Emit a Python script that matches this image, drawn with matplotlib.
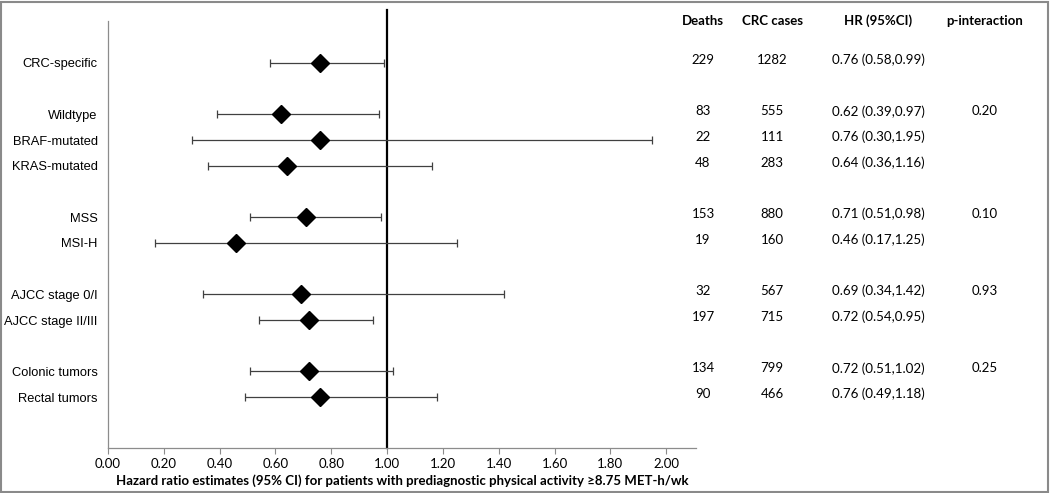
import matplotlib
matplotlib.use("Agg")
import matplotlib.pyplot as plt
import matplotlib.transforms as mtransforms
from matplotlib.patches import Rectangle

# ---- data ----
groups = [
    ["CRC-specific"],
    ["Wildtype", "BRAF-mutated", "KRAS-mutated"],
    ["MSS", "MSI-H"],
    ["AJCC stage 0/I", "AJCC stage II/III"],
    ["Colonic tumors", "Rectal tumors"],
]
hr = [0.76, 0.62, 0.76, 0.64, 0.71, 0.46, 0.69, 0.72, 0.72, 0.76]
ci_low = [0.58, 0.39, 0.30, 0.36, 0.51, 0.17, 0.34, 0.54, 0.51, 0.49]
ci_high = [0.99, 0.97, 1.95, 1.16, 0.98, 1.25, 1.42, 0.95, 1.02, 1.18]
deaths = [229, 83, 22, 48, 153, 19, 32, 197, 134, 90]
crc_cases = [1282, 555, 111, 283, 880, 160, 567, 715, 799, 466]
p_interaction = ["", "0.20", "", "", "0.10", "", "0.93", "", "0.25", ""]
x_ticks = [0.0, 0.2, 0.4, 0.6, 0.8, 1.0, 1.2, 1.4, 1.6, 1.8, 2.0]
headers = ["Deaths", "CRC cases", "HR (95%CI)", "p-interaction"]
xlabel = "Hazard ratio estimates (95% CI) for patients with prediagnostic physical activity \u22658.75 MET-h/wk"

# row positions: one blank row between groups
labels, ypos = [], []
row = 0
for g in groups:
    for name in g:
        labels.append(name)
        ypos.append(row)
        row += 1
    row += 1

W, H = 1050, 493
fig = plt.figure(figsize=(W / 100, H / 100), dpi=100)
ax = fig.add_axes([108 / W, 1 - 448 / H, (696 - 108) / W, (448 - 21) / H])

calibri = ["Lato", "DejaVu Sans"]
arial = ["Liberation Sans", "DejaVu Sans"]

# error bars + diamonds
xerr = [[h - l for h, l in zip(hr, ci_low)], [u - h for h, u in zip(hr, ci_high)]]
ax.errorbar(hr, ypos, xerr=xerr, fmt="none", ecolor="#404040", elinewidth=0.9,
            capsize=3.2, capthick=0.9, zorder=2)
ax.plot(hr, ypos, linestyle="none", marker="D", markersize=9.2, color="black", zorder=3)

# reference line at 1
ax.axvline(1.0, ymin=0, ymax=1.026, color="black", linewidth=1.6, clip_on=False, zorder=1)

ax.set_xlim(0, 2.107)
ax.set_ylim(14.98, -1.634)
ax.set_xticks(x_ticks)
ax.set_xticklabels([f"{t:.2f}" for t in x_ticks], family=calibri, fontsize=9.5)
ax.set_yticks(ypos)
ax.set_yticklabels(labels, family=arial, fontsize=9.3)
ax.tick_params(axis="y", length=0, pad=7.5)
ax.tick_params(axis="x", length=4, width=0.8, color="#8c8c8c", pad=3)
for side in ["top", "right"]:
    ax.spines[side].set_visible(False)
for side in ["left", "bottom"]:
    ax.spines[side].set_color("#8c8c8c")
    ax.spines[side].set_linewidth(0.9)
ax.set_xlabel(xlabel, family=calibri, fontsize=9.5, fontweight="bold", labelpad=3)

# table columns
trans = mtransforms.blended_transform_factory(fig.transFigure, ax.transData)
col_x = [703 / W, 772 / W, 878 / W, 985 / W]
for cx, htxt in zip(col_x, headers):
    ax.text(cx, -1.634, htxt, transform=trans, ha="center", va="center",
            family=calibri, fontsize=9.5, fontweight="bold")
for i, y in enumerate(ypos):
    yy = y - 0.12
    ax.text(col_x[0], yy, str(deaths[i]), transform=trans, ha="center", va="center",
            family=calibri, fontsize=9.5)
    ax.text(col_x[1], yy, str(crc_cases[i]), transform=trans, ha="center", va="center",
            family=calibri, fontsize=9.5)
    ax.text(col_x[2], yy, f"{hr[i]:.2f} ({ci_low[i]:.2f},{ci_high[i]:.2f})", transform=trans,
            ha="center", va="center", family=calibri, fontsize=9.6)
    if p_interaction[i]:
        ax.text(col_x[3], yy, p_interaction[i], transform=trans, ha="center", va="center",
                family=calibri, fontsize=9.5)

# outer frame
fig.patches.append(Rectangle((1 / W, 1 / H), 1 - 3 / W, 1 - 3 / H, transform=fig.transFigure,
                             fill=False, edgecolor="#8a8a8a", linewidth=1.5))

fig.savefig("out.png", dpi=100)
